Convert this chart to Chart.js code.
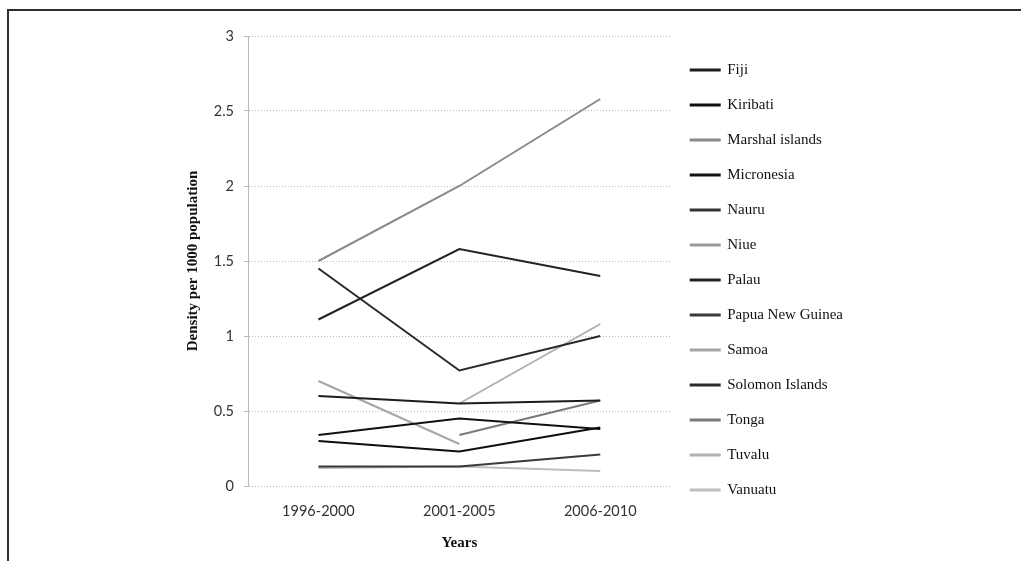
<!DOCTYPE html>
<html>
<head>
<meta charset="utf-8">
<script src="https://cdn.jsdelivr.net/npm/chart.js@4/dist/chart.umd.min.js"></script>
<style>
  html, body { margin: 0; padding: 0; background: #fff; overflow: hidden; }
  #wrap { position: relative; width: 1021px; height: 561px; }
  #frame {
    position: absolute; left: 7px; top: 9px; right: -10px; bottom: -10px;
    border-left: 2px solid #2e2e2e; border-top: 2px solid #2e2e2e;
    pointer-events: none;
  }
  canvas { display: block; }
</style>
</head>
<body>
<div id="wrap">
  <canvas id="chart" width="1021" height="561"></canvas>
  <div id="frame"></div>
</div>
<script>
// Periods on the x axis
const periods = ['1996-2000', '2001-2005', '2006-2010'];

// Density per 1000 population, one array per country (null = no figure for that period)
const fiji           = [0.60, 0.55, 0.57];
const kiribati       = [0.30, 0.23, 0.39];
const marshalIslands = [1.50, 2.00, 2.58];
const micronesia     = [0.34, 0.45, 0.38];
const nauru          = [null, null, null];
const niue           = [null, null, null];
const palau          = [1.11, 1.58, 1.40];
const papuaNewGuinea = [0.13, 0.13, 0.21];
const samoa          = [0.70, 0.28, null];
const solomonIslands = [1.45, 0.77, 1.00];
const tonga          = [null, 0.34, 0.57];
const tuvalu         = [null, 0.55, 1.08];
const vanuatu        = [0.12, 0.13, 0.10];

// Value-axis tick labels
const yTickLabels = ['0', '0.5', '1', '1.5', '2', '2.5', '3'];

const series = [
  ['Fiji', fiji, '#1c1c1c'],
  ['Kiribati', kiribati, '#0e0e0e'],
  ['Marshal islands', marshalIslands, '#8a8a8a'],
  ['Micronesia', micronesia, '#111111'],
  ['Nauru', nauru, '#333333'],
  ['Niue', niue, '#9a9a9a'],
  ['Palau', palau, '#222222'],
  ['Papua New Guinea', papuaNewGuinea, '#3a3a3a'],
  ['Samoa', samoa, '#a6a6a6'],
  ['Solomon Islands', solomonIslands, '#2a2a2a'],
  ['Tonga', tonga, '#7a7a7a'],
  ['Tuvalu', tuvalu, '#b0b0b0'],
  ['Vanuatu', vanuatu, '#bdbdbd']
];

const datasets = series.map(([label, data, color]) => ({
  label,
  data,
  borderColor: color,
  backgroundColor: color,
  borderWidth: 2,
  pointRadius: 0,
  pointHoverRadius: 0,
  tension: 0,
  spanGaps: false
}));

const gridColor = '#b9b9b9';

new Chart(document.getElementById('chart'), {
  type: 'line',
  data: { labels: periods, datasets },
  options: {
    responsive: false,
    animation: false,
    events: [],
    layout: { padding: { left: 184, right: 168, top: 0, bottom: 1 } },
    scales: {
      x: {
        offset: true,
        grid: { display: false, drawTicks: false },
        border: { display: false },
        ticks: {
          padding: 17,
          color: '#333',
          font: { family: 'Lato', size: 14.5 }
        },
        title: {
          display: true,
          text: 'Years',
          color: '#111',
          font: { family: 'Liberation Serif', size: 15, weight: 'bold' },
          padding: { top: 0, bottom: 8 }
        },
        afterFit: (s) => { s.height = 74; }
      },
      y: {
        min: 0,
        max: 3,
        ticks: {
          stepSize: 0.5,
          padding: 10,
          color: '#333',
          font: { family: 'Lato', size: 14.5 },
          callback: (v, i) => yTickLabels[i]
        },
        grid: {
          color: gridColor,
          lineWidth: 1,
          tickLength: 4,
          tickColor: gridColor
        },
        // dotted axis line and dotted horizontal gridlines
        border: { display: true, color: gridColor, dash: [1, 2] },
        title: {
          display: true,
          text: 'Density per 1000 population',
          color: '#111',
          font: { family: 'Liberation Serif', size: 15, weight: 'bold' },
          padding: { top: 0, bottom: 0 }
        },
        afterFit: (s) => { s.width = 64; }
      }
    },
    plugins: {
      tooltip: { enabled: false },
      // empty title used as top spacing above the plot area
      title: {
        display: true,
        text: '',
        font: { size: 12 },
        padding: { top: 21.6, bottom: 0 }
      },
      legend: {
        position: 'right',
        align: 'center',
        maxWidth: 220,
        labels: {
          boxWidth: 29,
          boxHeight: 1,
          padding: 20,
          color: '#111',
          font: { family: 'Liberation Serif', size: 15 }
        }
      }
    }
  }
});
</script>
</body>
</html>
